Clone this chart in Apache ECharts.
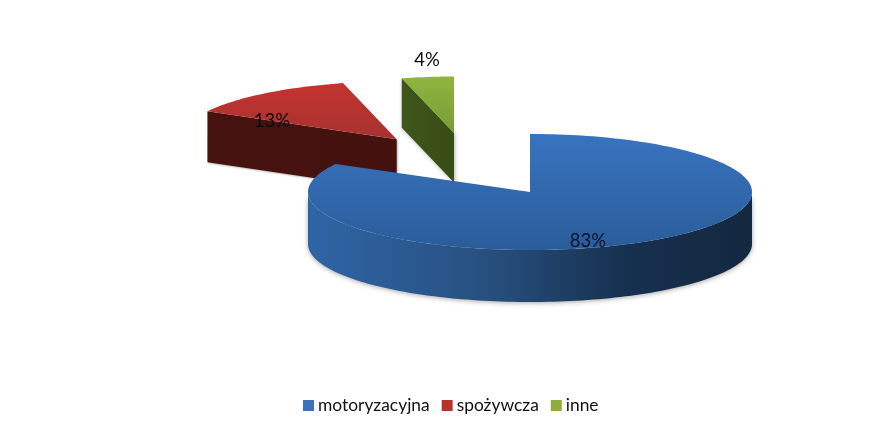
<!DOCTYPE html>
<html><head><meta charset="utf-8">
<style>html,body{margin:0;padding:0;background:#fff}#c{width:889px;height:434px}</style>
<script src="https://cdn.jsdelivr.net/npm/echarts@6/dist/echarts.min.js"></script>
</head><body><div id="c"></div>
<script>
const categories = ['motoryzacyjna', 'spożywcza', 'inne'];
const values = [83, 13, 4];
const labels = ['83%', '13%', '4%'];

const legendColors = ['#3a72b8', '#b5322e', '#8cae3f'];
const geom = [
  {cx: 530, cy: 192, rx: 222, ry: 58, depth: 52, lx: 588, ly: 241},
  {cx: 396.7, cy: 139.3, rx: 216, ry: 58, depth: 51, lx: 272, ly: 121},
  {cx: 454, cy: 133, rx: 210, ry: 56.5, depth: 49.5, lx: 427, ly: 60}
];
const topFill = [['#3874bf', '#2a5c99'], ['#c4332f', '#a63230'], ['#8fb53f', '#7a9b36']];
const wallFill = [
  [[0, '#2e65a6'], [0.4, '#27507f'], [0.72, '#16304f'], [1, '#14283f']],
  [[0, '#46120f'], [1, '#43110e']],
  [[0, '#40561a'], [1, '#384c14']]
];

const total = values.reduce((a, b) => a + b, 0);
const pt = (g, deg, dy) => {
  const a = deg * Math.PI / 180;
  return [g.cx + g.rx * Math.sin(a), g.cy - g.ry * Math.cos(a) + (dy || 0)];
};
const arc = (g, from, to, dy) => {
  const out = [], n = Math.max(2, Math.ceil(Math.abs(to - from) / 1.5));
  for (let i = 0; i <= n; i++) out.push(pt(g, from + (to - from) * i / n, dy));
  return out;
};
const grad = (x2, y2, stops) => new echarts.graphic.LinearGradient(0, 0, x2, y2,
  stops.map(s => ({offset: s[0], color: s[1]})));

function renderSlice(params, api) {
  const i = params.seriesIndex, g = geom[i];
  let start = 0;
  for (let k = 0; k < i; k++) start += values[k];
  const a0 = start / total * 360, a1 = a0 + api.value(0) / total * 360;
  const children = [];
  if (i === 0) {
    const lo = Math.max(a0, 90), hi = Math.min(a1, 270);
    const wall = arc(g, lo, hi, 0).concat(arc(g, hi, lo, g.depth));
    children.push({type: 'polygon', shape: {points: wall}, style: {
      fill: grad(1, 0, wallFill[i]),
      shadowBlur: 5, shadowColor: 'rgba(0,0,0,0.35)', shadowOffsetY: 1
    }});
  } else {
    const e = pt(g, a0), c = [g.cx, g.cy];
    const face = [e, c, [c[0], c[1] + g.depth], [e[0], e[1] + g.depth]];
    children.push({type: 'polygon', shape: {points: face}, style: {
      fill: grad(1, 0, wallFill[i]),
      shadowBlur: i === 2 ? 4 : 2, shadowColor: 'rgba(0,0,0,0.3)', shadowOffsetX: 1, shadowOffsetY: 1
    }});
  }
  children.push({type: 'polygon', shape: {points: arc(g, a0, a1, 0).concat([[g.cx, g.cy]])}, style: {
    fill: grad(0, 1, [[0, topFill[i][0]], [1, topFill[i][1]]])
  }});
  children.push({type: 'text', z2: 10, style: {
    text: labels[i], x: g.lx, y: g.ly, align: 'center', verticalAlign: 'middle',
    fontFamily: 'Lato', fontSize: 18.5, fill: i === 0 ? '#04142c' : '#0b0b0b'
  }});
  return {type: 'group', children};
}

const chart = echarts.init(document.getElementById('c'));
chart.setOption({
  animation: false,
  backgroundColor: '#fff',
  legend: {
    data: categories, left: 303, top: 397, itemWidth: 11, itemHeight: 11, itemGap: 12,
    icon: 'rect', selectedMode: false, padding: 0,
    textStyle: {fontFamily: 'Lato', fontSize: 17.4, color: '#111', padding: [0, 0, 0, -1]}
  },
  series: categories.map((name, i) => ({
    type: 'custom', name, coordinateSystem: 'none', z: i === 0 ? 5 : 4 - i,
    silent: true, clip: false,
    itemStyle: {color: legendColors[i]},
    data: [[values[i]]],
    renderItem: renderSlice
  }))
});
</script></body></html>
